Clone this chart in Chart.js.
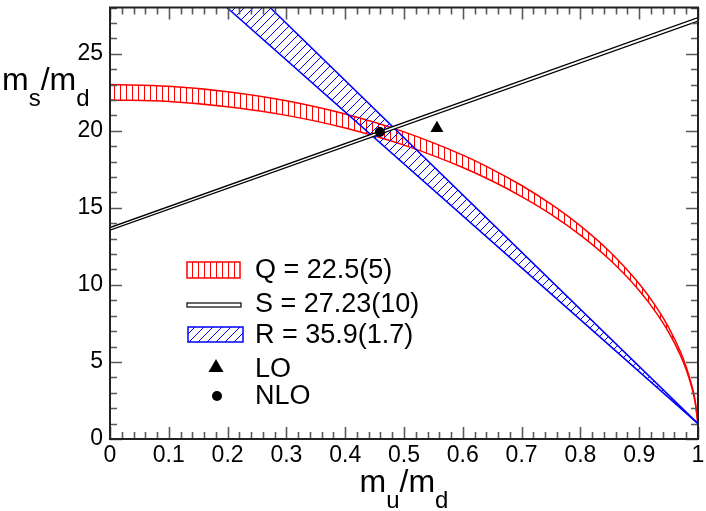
<!DOCTYPE html>
<html><head><meta charset="utf-8">
<script src="https://cdn.jsdelivr.net/npm/chart.js@4.4.0/dist/chart.umd.min.js"></script>
<style>html,body{margin:0;padding:0;background:#fff;}#wrap{width:706px;height:511px;}</style>
</head><body><div id="wrap"><canvas id="c" width="706" height="511"></canvas></div>
<script>
// ---- data ----
const qX      = [0, 0.1, 0.2, 0.3, 0.4, 0.5, 0.6, 0.65, 0.7, 0.75, 0.8, 0.85, 0.9, 0.93, 0.95, 0.97, 0.98, 0.99, 0.995, 1];
const qUpper  = [23.0, 22.89, 22.54, 21.95, 21.09, 19.93, 18.42, 17.50, 16.45, 15.24, 13.83, 12.15, 10.07, 8.51, 7.25, 5.68, 4.68, 3.39, 2.50, 1.0];
const qLower  = [22.0, 21.90, 21.56, 21.00, 20.18, 19.07, 17.62, 16.74, 15.73, 14.58, 13.23, 11.63, 9.64, 8.14, 6.94, 5.44, 4.49, 3.26, 2.41, 1.0];
const sX      = [0, 1];
const sUpper  = [13.72, 27.34];
const sLower  = [13.55, 27.12];
const rX      = [0, 1];
const rUpper  = [38.1, 1.0];
const rLower  = [34.7, 1.0];
const loX     = [0.556];
const loY     = [20.17];
const nloX    = [0.459];
const nloY    = [19.92];
const legendLabels = ["Q = 22.5(5)", "S = 27.23(10)", "R = 35.9(1.7)", "LO", "NLO"];
const xTicks  = [0, 0.1, 0.2, 0.3, 0.4, 0.5, 0.6, 0.7, 0.8, 0.9, 1];
const yTicks  = [0, 5, 10, 15, 20, 25];
const xMinorStep = 0.02;
const yMinorStep = 1;
const xTitle = ["m", "u", "m", "d"];
const yTitle = ["m", "s", "m", "d"];

const FONT = "'Liberation Sans', Arial, Helvetica, sans-serif";
const pts = (xs, ys) => xs.map((x, i) => ({x: x, y: ys[i]}));

const cv = document.getElementById('c');
const ctx = cv.getContext('2d');

function makeHatch(color, kind) {
  const c = document.createElement('canvas');
  if (kind === 'v') { c.width = 6; c.height = 6; } else { c.width = 9; c.height = 9; }
  const g = c.getContext('2d');
  g.strokeStyle = color; g.lineWidth = 1;
  g.beginPath();
  if (kind === 'v') {
    g.moveTo(0.5, 0); g.lineTo(0.5, 6);
  } else {
    g.moveTo(-1, 10); g.lineTo(10, -1);
    g.moveTo(-1, 1); g.lineTo(1, -1);
    g.moveTo(8, 10); g.lineTo(10, 8);
  }
  g.stroke();
  return ctx.createPattern(c, 'repeat');
}
const redHatch = makeHatch('#ff0000', 'v');
const blueHatch = makeHatch('#0000ff', 'd');

const lineBase = {pointRadius: 0, borderWidth: 1.5, cubicInterpolationMode: 'monotone'};

const decor = {
  id: 'decor',
  afterDraw(chart) {
    const c = chart.ctx, a = chart.chartArea;
    const xs = chart.scales.x, ys = chart.scales.y;
    c.save();
    // ticks (inward, all four sides)
    c.strokeStyle = '#5a5a5a'; c.lineWidth = 1.6;
    c.beginPath();
    for (let v = 0; v <= 1.0001; v += xMinorStep) {
      const px = Math.round(xs.getPixelForValue(v)) + 0.5;
      const major = xTicks.some(t => Math.abs(t - v) < 1e-6);
      const L = major ? 12 : 7;
      c.moveTo(px, a.bottom); c.lineTo(px, a.bottom - L);
      c.moveTo(px, a.top); c.lineTo(px, a.top + L);
    }
    for (let v = 0; v <= ys.max + 1e-6; v += yMinorStep) {
      const py = Math.round(ys.getPixelForValue(v)) + 0.5;
      const major = yTicks.some(t => Math.abs(t - v) < 1e-6);
      const L = major ? 12 : 7;
      c.moveTo(a.left, py); c.lineTo(a.left + L, py);
      c.moveTo(a.right, py); c.lineTo(a.right - L, py);
    }
    c.stroke();
    // frame
    c.strokeStyle = '#222'; c.lineWidth = 2;
    c.strokeRect(a.left, a.top, a.right - a.left, a.bottom - a.top);

    // axis titles with subscripts
    function subTitle(parts, x0, base, center) {
      const big = '32px ' + FONT, small = '24px ' + FONT;
      const seq = [[parts[0], big, 0], [parts[1], small, 16], ['/', big, 0], [parts[2], big, 0], [parts[3], small, 16]];
      let w = 0;
      seq.forEach(s => { c.font = s[1]; w += c.measureText(s[0]).width; });
      let x = center ? x0 - w / 2 : x0;
      c.fillStyle = '#000'; c.textBaseline = 'alphabetic'; c.textAlign = 'left';
      seq.forEach(s => { c.font = s[1]; c.fillText(s[0], x, base + s[2]); x += c.measureText(s[0]).width; });
    }
    subTitle(yTitle, 2, 90, false);
    subTitle(xTitle, (a.left + a.right) / 2, 492, true);

    // legend
    c.fillStyle = redHatch; c.fillRect(187, 262, 53, 16);
    c.strokeStyle = '#ff0000'; c.lineWidth = 1.5; c.strokeRect(187, 262, 53, 16);
    c.fillStyle = '#fff'; c.fillRect(187, 303, 54, 4);
    c.strokeStyle = '#000'; c.lineWidth = 1.2; c.strokeRect(187, 303, 54, 4);
    c.fillStyle = blueHatch; c.fillRect(188, 327, 55, 15);
    c.strokeStyle = '#0000ff'; c.lineWidth = 1.5; c.strokeRect(188, 327, 55, 15);
    c.fillStyle = '#000';
    c.beginPath(); c.moveTo(216, 359); c.lineTo(223.5, 372); c.lineTo(208.5, 372); c.closePath(); c.fill();
    c.beginPath(); c.arc(217, 396, 5, 0, Math.PI * 2); c.fill();
    const baselines = [278, 312, 343, 377, 404];
    c.font = '27px ' + FONT; c.fillStyle = '#000'; c.textAlign = 'left'; c.textBaseline = 'alphabetic';
    legendLabels.forEach((t, i) => c.fillText(t, 255, baselines[i]));
    c.restore();
  }
};

new Chart(cv, {
  type: 'line',
  data: {
    datasets: [
      Object.assign({data: pts(qX, qUpper), borderColor: '#ff0000', fill: false, order: 5}, lineBase),
      Object.assign({data: pts(qX, qLower), borderColor: '#ff0000', fill: 0, backgroundColor: redHatch, order: 5}, lineBase),
      Object.assign({data: pts(rX, rUpper), borderColor: '#0000ff', fill: false, order: 4}, lineBase),
      Object.assign({data: pts(rX, rLower), borderColor: '#0000ff', fill: 2, backgroundColor: blueHatch, order: 4}, lineBase),
      Object.assign({data: pts(sX, sUpper), borderColor: '#000', fill: false, order: 2}, lineBase, {borderWidth: 1.3}),
      Object.assign({data: pts(sX, sLower), borderColor: '#000', fill: 4, backgroundColor: '#fff', order: 2}, lineBase, {borderWidth: 1.3}),
      {data: pts(loX, loY), showLine: false, pointStyle: 'triangle', pointRadius: 7.5, backgroundColor: '#000', borderColor: '#000', borderWidth: 0, order: 0},
      {data: pts(nloX, nloY), showLine: false, pointStyle: 'circle', pointRadius: 5, backgroundColor: '#000', borderColor: '#000', borderWidth: 0, order: 0}
    ]
  },
  options: {
    responsive: false, animation: false, devicePixelRatio: 1,
    layout: {padding: {top: 2, right: 8, left: 0, bottom: 0}},
    plugins: {legend: {display: false}, tooltip: {enabled: false}},
    scales: {
      x: {
        type: 'linear', min: 0, max: 1,
        afterBuildTicks(s) { s.ticks = xTicks.map(v => ({value: v})); },
        afterFit(s) { s.height = 72; s.paddingLeft = 0; s.paddingRight = 0; s.paddingTop = 0; s.paddingBottom = 0; },
        ticks: {font: {family: FONT, size: 23}, color: '#000', padding: 3, maxRotation: 0, autoSkip: false,
                callback: v => String(Math.round(v * 10) / 10)},
        grid: {display: false, drawTicks: false},
        border: {display: false}
      },
      y: {
        type: 'linear', min: 0, max: 28,
        afterBuildTicks(s) { s.ticks = yTicks.map(v => ({value: v})); },
        afterFit(s) { s.width = 110; s.paddingLeft = 0; s.paddingRight = 0; s.paddingTop = 0; s.paddingBottom = 0; },
        ticks: {font: {family: FONT, size: 23}, color: '#000', padding: 7, autoSkip: false},
        grid: {display: false, drawTicks: false},
        border: {display: false}
      }
    }
  },
  plugins: [decor]
});
</script></body></html>
